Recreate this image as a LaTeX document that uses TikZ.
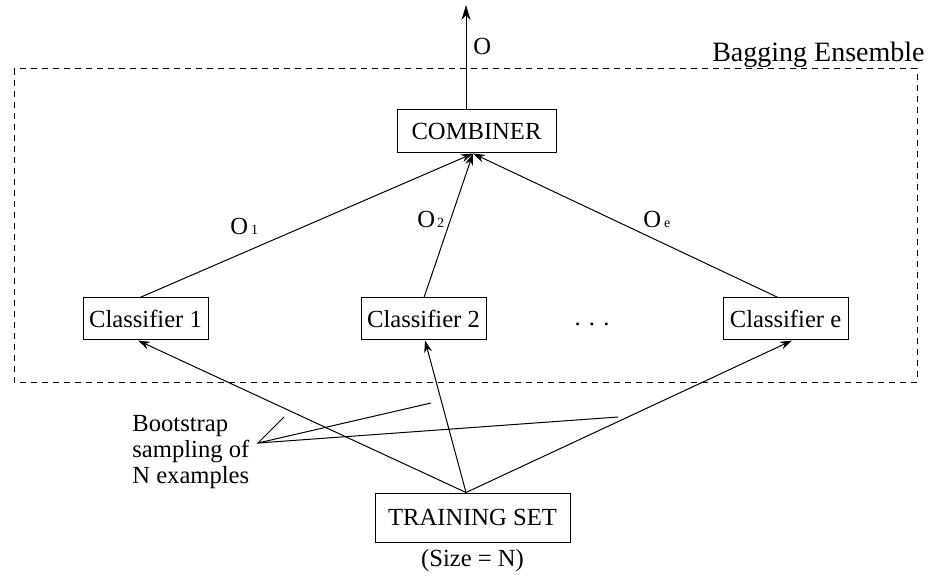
\documentclass[tikz,border=0pt]{standalone}
\usepackage{fontspec}
\setmainfont{Liberation Serif}
\usetikzlibrary{arrows.meta,calc}
\begin{document}
\begin{tikzpicture}[x=0.5pt,y=-0.5pt,
  every node/.style={font=\fontsize{12.3}{13}\selectfont, inner sep=0pt},
  box/.style={draw, line width=0.5pt},
  clsbox/.style={box, minimum width=62.5pt, minimum height=21pt},
  link/.style={line width=0.5pt, -{Stealth[length=6pt,width=4pt]}},
  plain/.style={line width=0.5pt},
  lbl/.style={anchor=base west},
  subsc/.style={font=\fontsize{7}{8}\selectfont}
]
\useasboundingbox (0,0) rectangle (929,576);

% ensemble frame
\draw[line width=0.5pt, dash pattern=on 3pt off 2.5pt] (14,69) rectangle (917,382);
\node[anchor=base east, font=\fontsize{14}{16}\selectfont] (ensemble) at (925,62) {Bagging Ensemble};

% boxes
\node[box, minimum width=79.5pt, minimum height=21.5pt] (combiner) at (476.5,131.5) {COMBINER};
\node[clsbox] (c1) at (145.5,319) {Classifier 1};
\node[clsbox] (c2) at (423.5,319) {Classifier 2};
\node[clsbox] (ce) at (785.5,319) {Classifier e};
\node[anchor=base] (dots) at (592,326) {. . .};
\node[box, minimum width=97.5pt, minimum height=24.5pt] (train) at (472.5,517.5) {TRAINING SET};
\node (size) at (472.5,561) {(Size = N)};

% output
\coordinate (out) at (466,5);
\draw[plain, -{Stealth[length=7.5pt,width=4.5pt]}] ($(combiner.north)+(-10.5,0)$) -- (out);
\node[lbl] (o) at (473,55) {O};

% classifiers to combiner
\draw[link] ($(c1.north)+(-5.5,0)$) -- ($(combiner.south)+(-3.5,0)$);
\draw[link] ($(c2.north)+(0.5,0)$) -- ($(combiner.south)+(-3.5,0)$);
\draw[link] ($(ce.north)+(-7.5,0)$) -- ($(combiner.south)+(-3.5,0)$);
\node[lbl] (o1) at (230,235) {O\hspace{1.5pt}{\fontsize{7}{8}\selectfont 1}};
\node[lbl] (o2) at (417,228) {O\hspace{1pt}{\fontsize{7}{8}\selectfont 2}};
\node[lbl] (oe) at (643,228) {O\hspace{1.5pt}{\fontsize{7}{8}\selectfont e}};

% training set to classifiers
\draw[link] ($(train.north)+(-6.5,0)$) -- ($(c1.south)+(-7.5,0)$);
\draw[link] ($(train.north)+(-6.5,0)$) -- ($(c2.south)+(1.5,0)$);
\draw[link] ($(train.north)+(-6.5,0)$) -- ($(ce.south)+(6.5,0)$);

% bootstrap note with pointer lines
\node[anchor=north west, align=left] (boot) at (132,415) {Bootstrap\\sampling of\\N examples};
\coordinate (ptr) at (258,443);
\coordinate (p1) at (284,417);
\coordinate (p2) at (431,403);
\coordinate (p3) at (618,417);
\draw[plain] (p1) -- (ptr) -- (p2);
\draw[plain] (ptr) -- (p3);
\end{tikzpicture}
\end{document}
